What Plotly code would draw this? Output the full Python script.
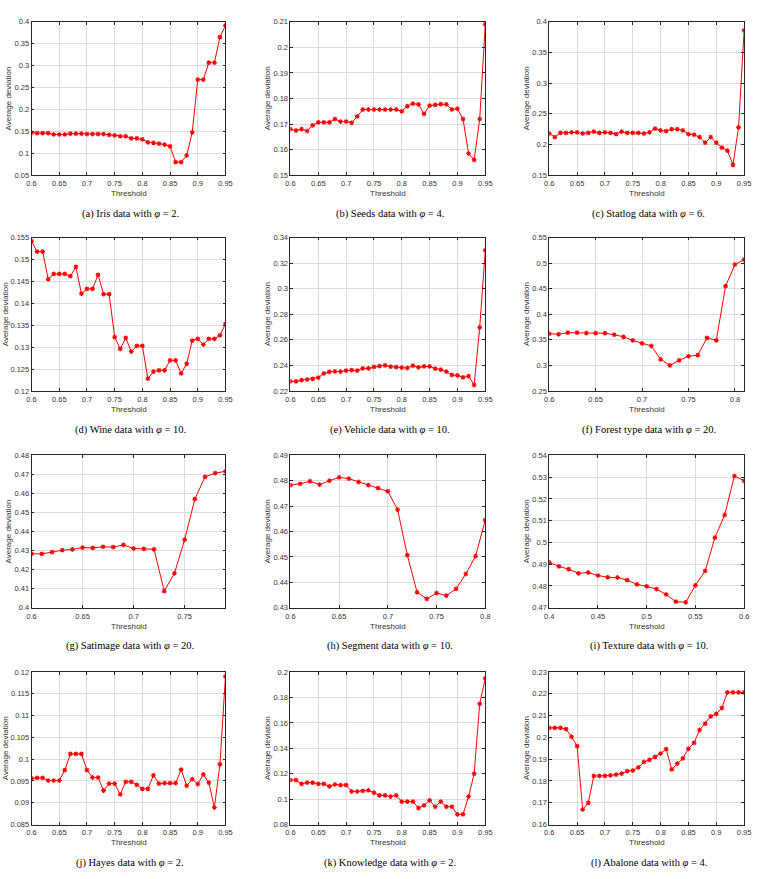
import plotly.graph_objects as go

W, H = 759, 879

# ---------------- data ----------------
thr_60_95 = [0.60, 0.61, 0.62, 0.63, 0.64, 0.65, 0.66, 0.67, 0.68, 0.69,
             0.70, 0.71, 0.72, 0.73, 0.74, 0.75, 0.76, 0.77, 0.78, 0.79,
             0.80, 0.81, 0.82, 0.83, 0.84, 0.85, 0.86, 0.87, 0.88, 0.89,
             0.90, 0.91, 0.92, 0.93, 0.94, 0.95]
thr_60_81 = [0.60, 0.61, 0.62, 0.63, 0.64, 0.65, 0.66, 0.67, 0.68, 0.69,
             0.70, 0.71, 0.72, 0.73, 0.74, 0.75, 0.76, 0.77, 0.78, 0.79,
             0.80, 0.81]
thr_60_79 = [0.60, 0.61, 0.62, 0.63, 0.64, 0.65, 0.66, 0.67, 0.68, 0.69,
             0.70, 0.71, 0.72, 0.73, 0.74, 0.75, 0.76, 0.77, 0.78, 0.79]
thr_60_80 = [0.60, 0.61, 0.62, 0.63, 0.64, 0.65, 0.66, 0.67, 0.68, 0.69,
             0.70, 0.71, 0.72, 0.73, 0.74, 0.75, 0.76, 0.77, 0.78, 0.79,
             0.80]
thr_40_60 = [0.40, 0.41, 0.42, 0.43, 0.44, 0.45, 0.46, 0.47, 0.48, 0.49,
             0.50, 0.51, 0.52, 0.53, 0.54, 0.55, 0.56, 0.57, 0.58, 0.59,
             0.60]

iris = [0.147, 0.146, 0.146, 0.146, 0.143, 0.143, 0.143, 0.145, 0.145, 0.145,
        0.144, 0.144, 0.144, 0.144, 0.142, 0.141, 0.139, 0.139, 0.134, 0.134,
        0.132, 0.125, 0.124, 0.122, 0.120, 0.116, 0.080, 0.080, 0.095, 0.148,
        0.268, 0.268, 0.307, 0.307, 0.365, 0.392]
seeds = [0.168, 0.1675, 0.168, 0.1673, 0.1695, 0.1707, 0.1707, 0.1707, 0.172, 0.171,
         0.171, 0.1705, 0.173, 0.1757, 0.1757, 0.1757, 0.1757, 0.1757, 0.1757, 0.1757,
         0.175, 0.177, 0.178, 0.1777, 0.174, 0.1772, 0.1775, 0.1778, 0.1777, 0.1757,
         0.176, 0.172, 0.1585, 0.156, 0.172, 0.209]
statlog = [0.218, 0.212, 0.219, 0.219, 0.220, 0.220, 0.218, 0.219, 0.221, 0.219,
           0.220, 0.219, 0.217, 0.221, 0.219, 0.219, 0.219, 0.218, 0.220, 0.226,
           0.223, 0.222, 0.225, 0.225, 0.223, 0.217, 0.216, 0.212, 0.203, 0.212,
           0.203, 0.195, 0.190, 0.167, 0.228, 0.386]
wine = [0.1542, 0.1518, 0.1518, 0.1455, 0.1467, 0.1467, 0.1467, 0.1462, 0.1483, 0.1422,
        0.1433, 0.1433, 0.1465, 0.1421, 0.1421, 0.1323, 0.1296, 0.1321, 0.1290, 0.1303,
        0.1303, 0.1228, 0.1244, 0.1247, 0.1247, 0.1270, 0.1270, 0.1240, 0.1262, 0.1315,
        0.1319, 0.1306, 0.1319, 0.1319, 0.1327, 0.1353]
vehicle = [0.2275, 0.2275, 0.2285, 0.2290, 0.2295, 0.2305, 0.2337, 0.2350, 0.2353, 0.2352,
           0.2360, 0.2363, 0.2360, 0.2377, 0.2377, 0.2388, 0.2395, 0.2400, 0.2390, 0.2387,
           0.2383, 0.2380, 0.2398, 0.2385, 0.2392, 0.2392, 0.2375, 0.2367, 0.2352, 0.2325,
           0.2322, 0.2307, 0.2317, 0.2247, 0.2697, 0.3300]
forest = [0.362, 0.361, 0.364, 0.364, 0.363, 0.363, 0.363, 0.360, 0.356, 0.349,
          0.343, 0.338, 0.312, 0.300, 0.310, 0.318, 0.320, 0.354, 0.349, 0.455,
          0.497, 0.507]
satimage = [0.4283, 0.4283, 0.4292, 0.4302, 0.4306, 0.4316, 0.4314, 0.4320, 0.4318, 0.4330,
            0.4311, 0.4309, 0.4307, 0.4087, 0.4181, 0.4357, 0.4570, 0.4687, 0.4707, 0.4716]
segment = [0.4783, 0.4788, 0.4798, 0.4785, 0.4800, 0.4813, 0.4808, 0.4795, 0.4783, 0.4771,
           0.4758, 0.4686, 0.4507, 0.4361, 0.4335, 0.4358, 0.4348, 0.4374, 0.4433, 0.4503,
           0.4645]
texture = [0.4908, 0.4890, 0.4877, 0.4858, 0.4862, 0.4848, 0.4840, 0.4839, 0.4827, 0.4807,
           0.4798, 0.4786, 0.4761, 0.4728, 0.4725, 0.4803, 0.4869, 0.5022, 0.5126, 0.5305,
           0.5283]
hayes = [0.0956, 0.0957, 0.0957, 0.0951, 0.0951, 0.0951, 0.0975, 0.1012, 0.1012, 0.1012,
         0.0975, 0.0958, 0.0958, 0.0928, 0.0944, 0.0944, 0.0919, 0.0948, 0.0948, 0.0941,
         0.0932, 0.0932, 0.0963, 0.0944, 0.0945, 0.0945, 0.0945, 0.0976, 0.0939, 0.0954,
         0.0943, 0.0965, 0.0946, 0.0889, 0.0988, 0.1190]
knowledge = [0.115, 0.115, 0.112, 0.113, 0.113, 0.112, 0.112, 0.110, 0.1115, 0.111,
             0.111, 0.106, 0.106, 0.1065, 0.107, 0.105, 0.103, 0.103, 0.102, 0.103,
             0.098, 0.098, 0.098, 0.093, 0.095, 0.099, 0.094, 0.098, 0.094, 0.094,
             0.088, 0.088, 0.102, 0.120, 0.175, 0.195]
abalone = [0.2044, 0.2044, 0.2044, 0.2038, 0.2003, 0.1960, 0.1669, 0.1699, 0.1823, 0.1823,
           0.1823, 0.1826, 0.1829, 0.1834, 0.1845, 0.1848, 0.1862, 0.1887, 0.1897, 0.1911,
           0.1926, 0.1946, 0.1853, 0.1880, 0.1904, 0.1948, 0.1975, 0.2034, 0.2063, 0.2097,
           0.2108, 0.2135, 0.2207, 0.2207, 0.2207, 0.2207]

captions = ["(a) Iris data with <i>φ</i> = 2.", "(b) Seeds data with <i>φ</i> = 4.",
            "(c) Statlog data with <i>φ</i> = 6.", "(d) Wine data with <i>φ</i> = 10.",
            "(e) Vehicle data with <i>φ</i> = 10.", "(f) Forest type data with <i>φ</i> = 20.",
            "(g) Satimage data with <i>φ</i> = 20.", "(h) Segment data with <i>φ</i> = 10.",
            "(i) Texture data with <i>φ</i> = 10.", "(j) Hayes data with <i>φ</i> = 2.",
            "(k) Knowledge data with <i>φ</i> = 2.", "(l) Abalone data with <i>φ</i> = 4."]

panels = [
    (thr_60_95, iris,      [0.6, 0.95], 0.05, [0.05, 0.4],   0.05),
    (thr_60_95, seeds,     [0.6, 0.95], 0.05, [0.15, 0.21],  0.01),
    (thr_60_95, statlog,   [0.6, 0.95], 0.05, [0.15, 0.4],   0.05),
    (thr_60_95, wine,      [0.6, 0.95], 0.05, [0.12, 0.155], 0.005),
    (thr_60_95, vehicle,   [0.6, 0.95], 0.05, [0.22, 0.34],  0.02),
    (thr_60_81, forest,    [0.6, 0.81], 0.05, [0.25, 0.55],  0.05),
    (thr_60_79, satimage,  [0.6, 0.79], 0.05, [0.4, 0.48],   0.01),
    (thr_60_80, segment,   [0.6, 0.8],  0.05, [0.43, 0.49],  0.01),
    (thr_40_60, texture,   [0.4, 0.6],  0.05, [0.47, 0.54],  0.01),
    (thr_60_95, hayes,     [0.6, 0.95], 0.05, [0.085, 0.12], 0.005),
    (thr_60_95, knowledge, [0.6, 0.95], 0.05, [0.08, 0.2],   0.02),
    (thr_60_95, abalone,   [0.6, 0.95], 0.05, [0.16, 0.23],  0.01),
]

# ---------------- layout geometry (pixels) ----------------
cols_px = [(27, 224), (290, 488), (553, 751)]
rows_px = [(18, 173), (236, 391), (456, 610), (675, 829)]
ytitle_x = [4, 267, 530]


def px_x(p):
    return p / W


def px_y(p):
    return 1 - p / H


fig = go.Figure()
annotations = []
axis_color = "#262626"
tick_font = dict(family="Liberation Sans, Arial, sans-serif", size=7.5, color="#333333")

for i, (xs, ys, xr, dx, yr, dy) in enumerate(panels):
    r, c = divmod(i, 3)
    n = "" if i == 0 else str(i + 1)
    x0, x1 = cols_px[c]
    y0, y1 = rows_px[r]
    fig.add_trace(go.Scatter(
        x=xs, y=ys, mode="lines+markers",
        line=dict(color="#ff0000", width=1),
        marker=dict(symbol="asterisk-open", size=4, color="#ff0000",
                    line=dict(color="#ff0000", width=1.1)),
        xaxis="x" + n, yaxis="y" + n, showlegend=False, hoverinfo="x+y"))
    common = dict(showline=True, linecolor=axis_color, linewidth=0.8, mirror="ticks",
                  ticks="inside", ticklen=3, tickwidth=0.7, tickcolor=axis_color,
                  showgrid=True, gridcolor="#dcdcdc", gridwidth=0.6,
                  zeroline=False, tickfont=tick_font)
    fig.layout["xaxis" + n] = dict(domain=[px_x(x0), px_x(x1)], anchor="y" + n,
                                   range=xr, tick0=0.6 if xr[0] >= 0.6 else 0.4, dtick=dx,
                                   ticklabelstandoff=1, **common)
    fig.layout["yaxis" + n] = dict(domain=[px_y(y1), px_y(y0)], anchor="x" + n,
                                   range=yr, tick0=yr[0], dtick=dy, **common)
    # x-axis title
    annotations.append(dict(text="Threshold", x=px_x((x0 + x1) / 2), y=px_y(y1 + 18.5),
                            xref="paper", yref="paper", showarrow=False,
                            xanchor="center", yanchor="middle",
                            font=dict(family="Liberation Sans, Arial, sans-serif",
                                      size=8, color="#333333")))
    # y-axis title
    ytx = ytitle_x[c]
    if i in (3, 9):
        ytx = 0
    annotations.append(dict(text="Average deviation", x=px_x(ytx), y=px_y((y0 + y1) / 2),
                            xref="paper", yref="paper", showarrow=False, textangle=-90,
                            xanchor="center", yanchor="middle",
                            font=dict(family="Liberation Sans, Arial, sans-serif",
                                      size=8, color="#333333")))
    # caption
    annotations.append(dict(text=captions[i], x=px_x((x0 + x1) / 2 + 2), y=px_y(y1 + 39),
                            xref="paper", yref="paper", showarrow=False,
                            xanchor="center", yanchor="middle",
                            font=dict(family="Liberation Serif, Times New Roman, serif",
                                      size=10.5, color="#000000")))

fig.update_layout(width=W, height=H, margin=dict(l=0, r=0, t=0, b=0),
                  paper_bgcolor="white", plot_bgcolor="white",
                  annotations=annotations)

fig.write_html("out.html")
